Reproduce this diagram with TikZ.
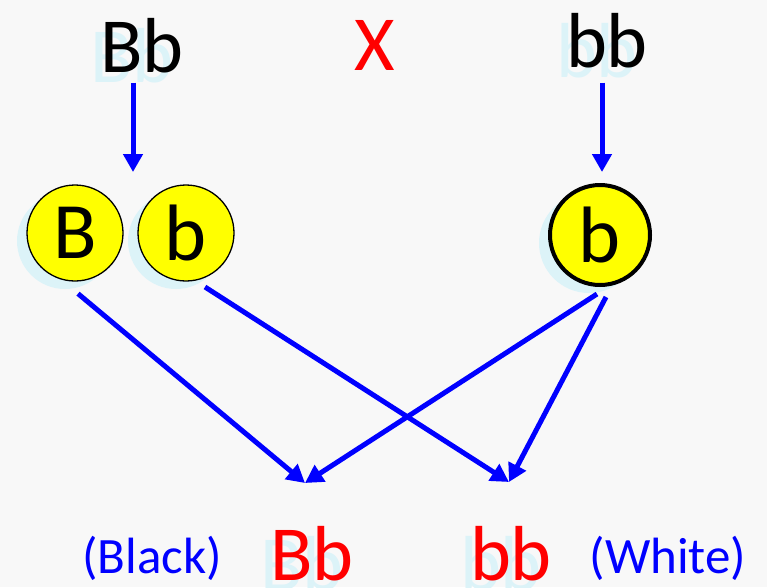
\documentclass[tikz,border=0pt]{standalone}
\usepackage{fontspec}
\setmainfont{Carlito}
\usetikzlibrary{arrows.meta}
\definecolor{sfondo}{HTML}{F8F8F8}
\definecolor{ombra}{HTML}{DCF3F8}
\definecolor{giallo}{HTML}{FFFF00}
\definecolor{blu}{HTML}{0000FF}
\definecolor{rosso}{HTML}{FF0000}
\tikzset{
  allele/.style={anchor=base,inner sep=0pt,font=\fontsize{78}{80}\selectfont},
  nota/.style={anchor=base,inner sep=0pt,text=blu,font=\fontsize{51}{53}\selectfont},
  gamete/.style={circle,draw,fill=giallo,line width=1.3pt,minimum size=96pt,inner sep=0pt,
    font=\fontsize{80}{82}\selectfont},
  ombracerchio/.style={circle,fill=ombra,minimum size=96pt,inner sep=0pt},
  freccia/.style={->,blu,line width=5pt}
}
\begin{document}
\begin{tikzpicture}[x=1pt,y=-1pt,>={Triangle[length=18pt,width=19pt]}]
  \fill[sfondo] (0,0) rectangle (767,587);
  \useasboundingbox (0,0) rectangle (767,587);
  % parents
  \node[allele,text=ombra] (Bb-s) at (132,82) {Bb};
  \node[allele,text=ombra] (bb-s) at (597,77) {bb};
  \node[allele] (Bb) at (142,72) {Bb};
  \node[allele,text=rosso] (cross) at (375,70) {X};
  \node[allele] (bb) at (607,67) {bb};
  % gametes
  \node[ombracerchio] (gB-s) at (65,241) {};
  \node[ombracerchio] (gb-s) at (176,241) {};
  \node[ombracerchio,minimum size=100pt] (gbb-s) at (589,243) {};
  \node[gamete] (gB) at (75,233) {B};
  \node[gamete] (gb) at (186,233) {b};
  \node[gamete,line width=4pt,minimum size=100pt] (gbb) at (600,235) {b};
  % offspring
  \node[allele,text=ombra] (figlio1-s) at (302,590) {Bb};
  \node[allele,text=ombra] (figlio2-s) at (501,590) {bb};
  \node[allele,text=rosso] (figlio1) at (312,580) {Bb};
  \node[allele,text=rosso] (figlio2) at (511,580) {bb};
  \node[nota] (nero) at (152,573) {(Black)};
  \node[nota] (bianco) at (668,573) {(White)};
  \coordinate (split1) at (133,172);
  \coordinate (split2) at (602,172);
  \coordinate (meta1) at (305,483);
  \coordinate (meta2) at (509,482);
  % arrows
  \draw[freccia] ([shift={(-9,10)}]Bb.south) -- (split1);
  \draw[freccia] ([shift={(-5,15)}]bb.south) -- (split2);
  \draw[freccia] ([shift={(3,12)}]gB.south) -- (meta1);
  \draw[freccia] ([shift={(19,54)}]gb.center) -- (meta2);
  \draw[freccia] ([shift={(-3,7)}]gbb.south) -- (meta1);
  \draw[freccia] ([shift={(6,10)}]gbb.south) -- (meta2);
\end{tikzpicture}
\end{document}
